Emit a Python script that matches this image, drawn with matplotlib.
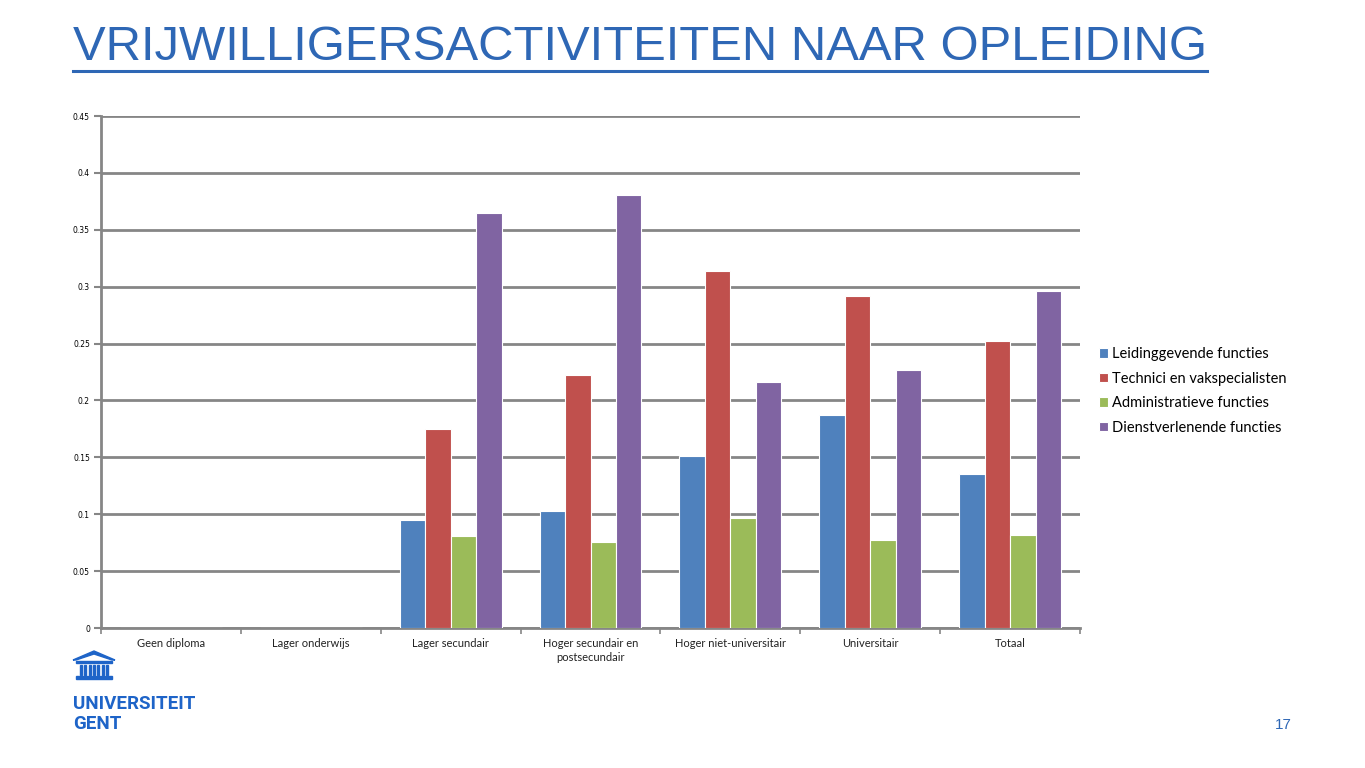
import matplotlib
matplotlib.use("Agg")
import matplotlib.pyplot as plt
import numpy as np
from matplotlib.patches import Polygon, Rectangle

categories = ["Geen diploma", "Lager onderwijs", "Lager secundair",
              "Hoger secundair en\npostsecundair", "Hoger niet-universitair",
              "Universitair", "Totaal"]
series_names = ["Leidinggevende functies", "Technici en vakspecialisten",
                "Administratieve functies", "Dienstverlenende functies"]
leidinggevende = [0, 0, 0.095, 0.103, 0.151, 0.187, 0.135]
technici = [0, 0, 0.175, 0.222, 0.314, 0.292, 0.252]
administratief = [0, 0, 0.081, 0.076, 0.097, 0.077, 0.082]
dienstverlenend = [0, 0, 0.365, 0.381, 0.216, 0.227, 0.296]
yticks = [0, 0.05, 0.1, 0.15, 0.2, 0.25, 0.3, 0.35, 0.4, 0.45]
ytick_labels = ["0", "0.05", "0.1", "0.15", "0.2", "0.25", "0.3", "0.35", "0.4", "0.45"]
title = "VRIJWILLIGERSACTIVITEITEN NAAR OPLEIDING"

colors = ["#4F81BD", "#C0504D", "#9BBB59", "#8064A2"]
grid_col = "#868686"

fig = plt.figure(figsize=(13.65, 7.68), dpi=100)
ax = fig.add_axes([101/1365, 1-628/768, 979/1365, 512/768])

x = np.arange(len(categories))
w = 0.182
data = [leidinggevende, technici, administratief, dienstverlenend]
for i, (vals, c, name) in enumerate(zip(data, colors, series_names)):
    ax.bar(x + (i - 1.5) * w, vals, width=w, color=c, edgecolor="white",
           linewidth=0.8, label=name, zorder=3)

ax.set_xlim(-0.5, len(categories) - 0.5)
ax.set_ylim(0, 0.45)
ax.set_yticks(yticks)
ax.set_yticklabels(ytick_labels, fontsize=5.5, family="DejaVu Sans")
ax.yaxis.grid(True, color=grid_col, linewidth=2, zorder=0)
ax.set_axisbelow(True)
for s in ["top", "right"]:
    ax.spines[s].set_visible(False)
ax.spines["left"].set_color(grid_col)
ax.spines["left"].set_linewidth(2)
ax.spines["bottom"].set_color(grid_col)
ax.spines["bottom"].set_linewidth(2)
ax.tick_params(axis="y", length=5, width=1.5, color=grid_col, pad=3)
ax.set_xticks(np.arange(len(categories) + 1) - 0.5, minor=False)
ax.set_xticklabels([""] * (len(categories) + 1))
ax.tick_params(axis="x", length=4, width=1.2, color=grid_col)
for xi, lab in zip(x, categories):
    ax.text(xi, -0.0085, lab, ha="center", va="top", fontsize=8,
            family="Lato", color="#222222", linespacing=1.4,
            transform=ax.transData)

# Legend
leg = fig.legend(loc="upper left", bbox_to_anchor=(1086/1365, 1-334/768),
                 frameon=False, handlelength=0.6, handleheight=0.6,
                 handletextpad=0.25, labelspacing=0.72,
                 prop={"family": "Lato", "size": 10.5})

# Title
fig.text(73/1365, 1-47/768, title, fontsize=35.3, color="#2E67B5",
         family="Liberation Sans", va="center", ha="left")
fig.add_artist(plt.Line2D([73/1365, 1207/1365], [1-71/768, 1-71/768],
                          color="#2E67B5", linewidth=2.2))

# Page number
fig.text(1283/1365, 1-725/768, "17", fontsize=11, color="#2E67B5",
         family="Liberation Sans", ha="center", va="center")

# Logo
logo_col = "#1E64C8"
fig.patches.append(Polygon([[73/1365, 1-660/768], [94/1365, 1-651/768],
                            [115/1365, 1-660/768], [112/1365, 1-660/768],
                            [94/1365, 1-654/768], [76/1365, 1-660/768]],
                           closed=True, transform=fig.transFigure,
                           facecolor=logo_col, edgecolor=logo_col))
fig.patches.append(Rectangle((76/1365, 1-663/768), 36/1365, 2/768,
                             transform=fig.transFigure, color=logo_col))
for k in range(7):
    fig.patches.append(Rectangle(((80 + k * 4.3)/1365, 1-675/768), 2/1365, 10/768,
                                 transform=fig.transFigure, color=logo_col))
fig.patches.append(Rectangle((76/1365, 1-679/768), 36/1365, 3/768,
                             transform=fig.transFigure, color=logo_col))
fig.text(73/1365, 1-704/768, "UNIVERSITEIT", fontsize=13.5, color=logo_col,
         family="Roboto", fontweight="bold", va="center", ha="left")
fig.text(73/1365, 1-724/768, "GENT", fontsize=13.5, color=logo_col,
         family="Roboto", fontweight="bold", va="center", ha="left")

fig.savefig("out.png", dpi=100)
